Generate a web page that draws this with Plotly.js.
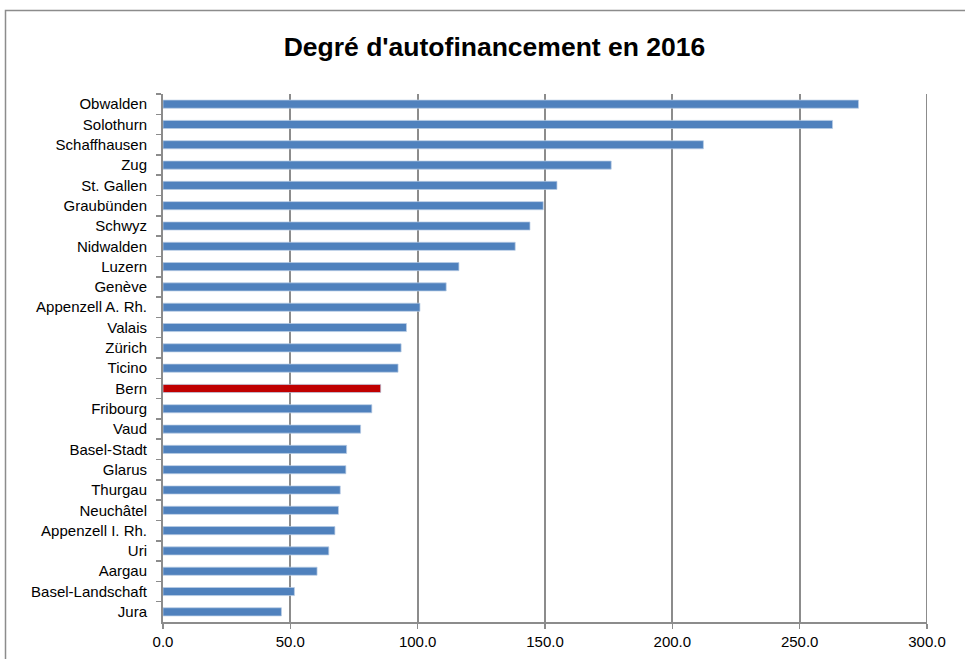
<!DOCTYPE html>
<html>
<head>
<meta charset="utf-8">
<script src="https://cdn.plot.ly/plotly-3.0.1.min.js"></script>
<style>html,body{margin:0;padding:0;background:#fff;}#chart{width:965px;height:659px;}</style>
</head>
<body>
<div id="chart"></div>
<script>
const cantons = ["Obwalden","Solothurn","Schaffhausen","Zug","St. Gallen","Graubünden","Schwyz","Nidwalden","Luzern","Genève","Appenzell A. Rh.","Valais","Zürich","Ticino","Bern","Fribourg","Vaud","Basel-Stadt","Glarus","Thurgau","Neuchâtel","Appenzell I. Rh.","Uri","Aargau","Basel-Landschaft","Jura"];
const values = [273.1,262.9,212.2,176.0,154.7,149.3,144.1,138.3,116.2,111.2,100.9,95.6,93.5,92.3,85.5,82.0,77.6,72.1,71.8,69.6,68.9,67.5,65.1,60.5,51.6,46.5];
const highlight = "Bern";
const xTicks = [0,50,100,150,200,250,300];

const colors = cantons.map(c => c === highlight ? "#C00000" : "#4F81BD");

const trace = {
  type: "bar",
  orientation: "h",
  y: cantons,
  x: values,
  width: 0.4,
  marker: {color: colors, line: {color: "rgba(185,205,229,0.9)", width: 0.8}},
  hoverinfo: "x+y"
};

const layout = {
  width: 965, height: 659,
  margin: {l: 163, r: 38, t: 94, b: 37},
  paper_bgcolor: "#fff", plot_bgcolor: "#fff",
  font: {family: "Liberation Sans, Arial, sans-serif", size: 15, color: "#000"},
  title: {text: "<b>Degré d'autofinancement en 2016</b>", font: {size: 26.5, family: "Liberation Sans, Arial, sans-serif", color: "#000"}, x: 0.5124, xref: "container", xanchor: "center", y: 0.929, yref: "container", yanchor: "middle"},
  showlegend: false,
  xaxis: {
    range: [0, 300], tickvals: xTicks, tickformat: ".1f",
    showgrid: true, gridcolor: "#8C8C8C", gridwidth: 2,
    zeroline: false, showline: true, linecolor: "#8C8C8C", linewidth: 2,
    ticks: "outside", ticklen: 5, tickcolor: "#8C8C8C", tickwidth: 1.5,
    tickfont: {size: 15}, fixedrange: true
  },
  yaxis: {
    type: "category", autorange: "reversed",
    showline: true, linecolor: "#8C8C8C", linewidth: 2,
    ticks: "outside", ticklen: 5, tickcolor: "#8C8C8C", tickwidth: 1.5, tickson: "boundaries",
    showgrid: false, tickfont: {size: 15}, ticklabelstandoff: 11, fixedrange: true
  },
  shapes: [{
    type: "rect", xref: "paper", yref: "paper",
    x0: (5.5 - 163) / 764, x1: 1.2, y0: -0.2, y1: 1 + (94 - 10.5) / 528,
    line: {color: "#8C8C8C", width: 1.5}, fillcolor: "rgba(0,0,0,0)", layer: "below"
  }, {
    type: "line", xref: "x", yref: "paper", x0: 300, x1: 300, y0: 0, y1: 1,
    line: {color: "#8C8C8C", width: 2}, layer: "below"
  }]
};

Plotly.newPlot("chart", [trace], layout, {displayModeBar: false, staticPlot: true});
</script>
</body>
</html>
